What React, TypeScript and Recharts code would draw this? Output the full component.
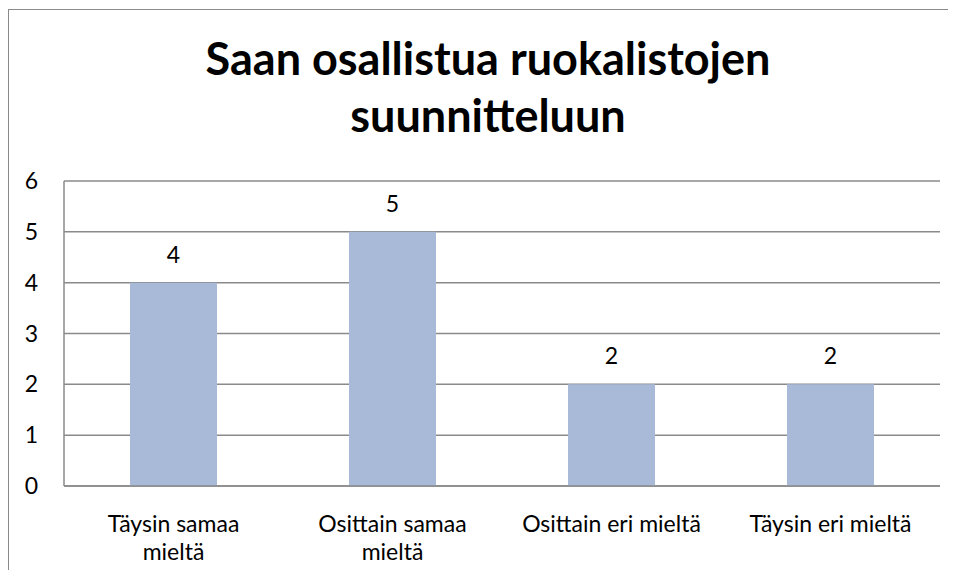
import React from 'react';
import { BarChart, Bar, XAxis, YAxis, CartesianGrid, LabelList } from 'recharts';

const CATEGORIES = ['Täysin samaa mieltä', 'Osittain samaa mieltä', 'Osittain eri mieltä', 'Täysin eri mieltä'];
const VALUES = [4, 5, 2, 2];
const Y_TICKS = [0, 1, 2, 3, 4, 5, 6];
const TITLE_LINES = ['Saan osallistua ruokalistojen', 'suunnitteluun'];

const data = CATEGORIES.map((name, i) => ({ name, value: VALUES[i] }));

const FONT = 'Lato, "Open Sans", sans-serif';
const GRID = '#8a8a8a';
const LABEL_WIDTH = 186;

let measureCtx: CanvasRenderingContext2D | null = null;
function wrapLabel(label: string, maxWidth: number): string[] {
  if (!measureCtx) {
    measureCtx = document.createElement('canvas').getContext('2d');
  }
  const ctx = measureCtx!;
  ctx.font = '23px Lato';
  const words = label.split(' ');
  const lines: string[] = [];
  let cur = '';
  words.forEach((w) => {
    const next = cur ? cur + ' ' + w : w;
    if (cur && ctx.measureText(next).width > maxWidth) {
      lines.push(cur);
      cur = w;
    } else {
      cur = next;
    }
  });
  if (cur) lines.push(cur);
  return lines;
}

const CategoryTick = (props: any) => {
  const { x, y, payload } = props;
  const lines = wrapLabel(payload.value, LABEL_WIDTH);
  return (
    <text x={x} y={y + 16} textAnchor="middle" fill="#000" fontSize={23} fontFamily={FONT}>
      {lines.map((l, i) => (
        <tspan key={i} x={x} dy={i === 0 ? 0 : 28}>
          {l}
        </tspan>
      ))}
    </text>
  );
};

export default function App() {
  return (
    <div
      style={{
        position: 'relative',
        marginTop: 1,
        width: 946,
        height: 560,
        borderLeft: `1px solid ${GRID}`,
        borderTop: `1px solid ${GRID}`,
        background: '#fff',
        fontFamily: FONT,
      }}
    >
      <svg width={880} height={150} style={{ position: 'absolute', left: 40, top: 0 }}>
        {TITLE_LINES.map((line, i) => (
          <text
            key={i}
            x={439}
            y={65 + i * 57}
            textAnchor="middle"
            fontSize={45}
            fontWeight="bold"
            fontFamily={FONT}
            fill="#000"
          >
            {line}
          </text>
        ))}
      </svg>
      <BarChart
        width={946}
        height={560}
        data={data}
        margin={{ top: 171, right: 15, bottom: 0, left: 0 }}
      >
        <CartesianGrid vertical={false} stroke={GRID} strokeWidth={1.5} />
        <XAxis
          dataKey="name"
          height={84}
          stroke={GRID}
          strokeWidth={1.5}
          tickLine={false}
          tickSize={0}
          tickMargin={30}
          interval={0}
          tick={<CategoryTick />}
        />
        <YAxis
          width={55}
          domain={[0, 6]}
          ticks={Y_TICKS}
          stroke={GRID}
          strokeWidth={1.5}
          tickLine={false}
          tickSize={0}
          tickMargin={26}
          tick={{ fill: '#000', fontSize: 23, fontFamily: FONT }}
        />
        <Bar dataKey="value" fill="#a9bad8" barSize={87} isAnimationActive={false}>
          <LabelList dataKey="value" position="top" offset={20} fill="#000" fontSize={23} fontFamily={FONT} />
        </Bar>
      </BarChart>
    </div>
  );
}
